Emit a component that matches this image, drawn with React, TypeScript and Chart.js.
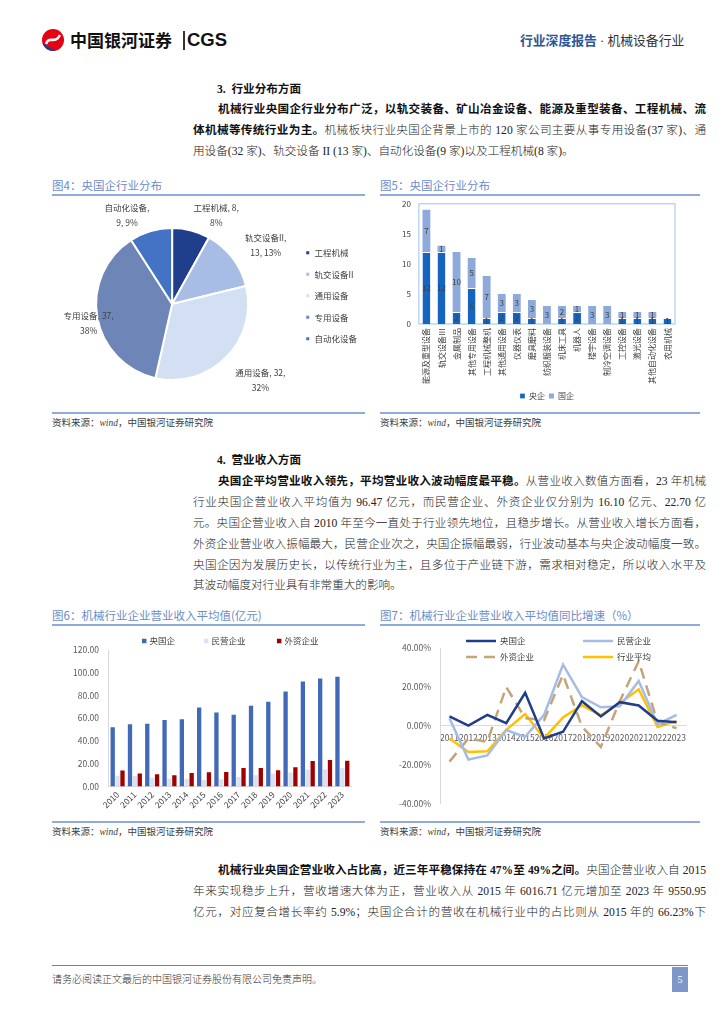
import React, { useEffect, useRef } from 'react';
import { Chart, registerables } from 'chart.js';

Chart.register(...registerables);

const CHART_FONT = '"Noto Sans CJK SC", "Noto Sans", sans-serif';
const TEXT_FONT = '"Liberation Serif", "Noto Sans CJK SC", serif';
Chart.defaults.font.family = CHART_FONT;
Chart.defaults.color = '#595959';

// ---------- Figure 4: pie ----------
const pieCategories = ['工程机械', '轨交设备II', '通用设备', '专用设备', '自动化设备'];
const pieValues = [8, 13, 32, 37, 9];
const piePercentLabels = ['8%', '13%', '32%', '38%', '9%'];

// ---------- Figure 5: stacked bars ----------
const industryCategories = [
  '能源及重型设备', '轨交设备Ⅲ', '金属制品', '其他专用设备', '工程机械整机', '其他通用设备',
  '仪器仪表', '磨具磨料', '纺织服装设备', '机床工具', '机器人', '楼宇设备',
  '制冷空调设备', '工控设备', '激光设备', '其他自动化设备', '农用机械',
];
const centralSoeCounts = [12, 12, 2, 6, 1, 2, 2, 1, 0, 1, 2, 0, 0, 1, 1, 1, 1];
const localSoeCounts = [7, 1, 10, 5, 7, 3, 3, 3, 3, 2, 1, 3, 3, 1, 1, 1, 0];
const industrySeriesNames = ['央企', '国企'];
const industryTicks = [0, 5, 10, 15, 20];

// ---------- Figure 6: grouped bars ----------
const revenueYears = ['2010', '2011', '2012', '2013', '2014', '2015', '2016', '2017', '2018', '2019', '2020', '2021', '2022', '2023'];
const soeAvgRevenue = [52.0, 54.6, 55.2, 58.4, 59.0, 69.5, 65.1, 63.0, 71.0, 74.4, 83.4, 92.4, 95.0, 96.47];
const privateAvgRevenue = [9.3, 9.3, 7.6, 6.7, 6.7, 5.8, 6.4, 8.4, 9.9, 11.3, 12.2, 14.8, 15.1, 16.1];
const foreignAvgRevenue = [14.0, 11.3, 10.8, 9.9, 11.9, 12.5, 12.8, 16.3, 16.3, 14.2, 16.9, 22.4, 23.3, 22.7];
const revenueSeriesNames = ['央国企', '民营企业', '外资企业'];
const revenueTicks = [0, 20, 40, 60, 80, 100, 120];

// ---------- Figure 7: lines ----------
const growthYears = ['2011', '2012', '2013', '2014', '2015', '2016', '2017', '2018', '2019', '2020', '2021', '2022', '2023'];
const soeGrowth = [4.9, 0.2, 5.7, 1.4, 17.0, -6.4, -3.0, 12.7, 4.9, 12.2, 10.5, 2.7, 1.9];
const privateGrowth = [4.0, -17.2, -15.1, -2.1, -5.6, 5.7, 31.5, 14.8, 9.6, 10.1, 23.1, 0.9, 5.7];
const foreignGrowth = [-18.3, -6.4, -8.2, 20.0, 4.0, 3.0, 26.3, -0.3, -10.8, 12.7, 33.2, 1.9, -1.2];
const industryGrowth = [-6.4, -13.4, -13.0, -2.0, 6.1, -6.4, 4.3, 10.6, 5.4, 11.6, 18.8, -0.5, 2.6];
const growthSeriesNames = ['央国企', '民营企业', '外资企业', '行业平均'];
const growthTicks = [-40, -20, 0, 20, 40];

// ---------- plugins ----------
const pieLabelPlugin = {
  id: 'pieLabels',
  afterDatasetsDraw(chart: any, _a: any, opts: any) {
    const meta = chart.getDatasetMeta(0);
    const ctx = chart.ctx;
    ctx.save();
    ctx.font = `${opts.size}px ${CHART_FONT}`;
    ctx.fillStyle = opts.color;
    ctx.textAlign = 'center';
    ctx.textBaseline = 'middle';
    meta.data.forEach((arc: any, i: number) => {
      const p = arc.getProps(['x', 'y', 'startAngle', 'endAngle', 'outerRadius'], true);
      const mid = (p.startAngle + p.endAngle) / 2;
      const d = p.outerRadius + opts.distance;
      const s = opts.shift[i] || [0, 0];
      const cx = p.x + Math.cos(mid) * d + s[0];
      const cy = p.y + Math.sin(mid) * d + s[1];
      const name = chart.data.labels[i];
      const v = chart.data.datasets[0].data[i];
      const pct = opts.percents[i];
      const lines = name.length >= 5 ? [`${name},`, `${v}, ${pct}`] : [`${name}, ${v},`, pct];
      lines.forEach((t: string, k: number) => {
        ctx.fillText(t, cx, cy + (k - (lines.length - 1) / 2) * opts.lineHeight);
      });
    });
    ctx.restore();
  },
};

const stackLabelPlugin = {
  id: 'stackLabels',
  afterDatasetsDraw(chart: any, _a: any, opts: any) {
    const ctx = chart.ctx;
    ctx.save();
    ctx.font = `${opts.size}px ${CHART_FONT}`;
    ctx.fillStyle = opts.color;
    ctx.textAlign = 'center';
    ctx.textBaseline = 'middle';
    chart.data.datasets.forEach((ds: any, di: number) => {
      const meta = chart.getDatasetMeta(di);
      meta.data.forEach((bar: any, i: number) => {
        const v = ds.data[i];
        if (!v) return;
        const p = bar.getProps(['x', 'y', 'base'], true);
        ctx.fillText(String(v), p.x, (p.y + p.base) / 2);
      });
    });
    ctx.restore();
  },
};

const plotBorderPlugin = {
  id: 'plotBorder',
  beforeDatasetsDraw(chart: any, _a: any, opts: any) {
    const { ctx, chartArea: a } = chart;
    ctx.save();
    ctx.strokeStyle = opts.color;
    ctx.lineWidth = opts.width;
    ctx.strokeRect(a.left, a.top, a.right - a.left, a.bottom - a.top);
    ctx.restore();
  },
};

const manualLegendPlugin = {
  id: 'manualLegend',
  afterDraw(chart: any, _a: any, opts: any) {
    const { ctx, chartArea } = chart;
    ctx.save();
    ctx.font = `${opts.size}px ${CHART_FONT}`;
    ctx.textBaseline = 'middle';
    ctx.textAlign = 'left';
    opts.rows.forEach((row: any) => {
      const y = chartArea.top + row.dy;
      row.items.forEach((item: any) => {
        const ds = chart.data.datasets[item.index];
        const x = chartArea.left + item.dx;
        let tx;
        if (opts.marker === 'box') {
          ctx.fillStyle = ds.backgroundColor;
          ctx.fillRect(x, y - opts.box / 2, opts.box, opts.box);
          tx = x + opts.box + opts.gap;
        } else {
          ctx.strokeStyle = ds.borderColor;
          ctx.lineWidth = ds.borderWidth;
          ctx.setLineDash(ds.borderDash || []);
          ctx.beginPath();
          ctx.moveTo(x, y);
          ctx.lineTo(x + opts.lineLength, y);
          ctx.stroke();
          ctx.setLineDash([]);
          tx = x + opts.lineLength + opts.gap;
        }
        ctx.fillStyle = opts.color;
        ctx.fillText(ds.label, tx, y);
      });
    });
    ctx.restore();
  },
};

// ---------- chart builders ----------
function buildPie(c: HTMLCanvasElement) {
  return new Chart(c, {
    type: 'pie',
    data: {
      labels: pieCategories,
      datasets: [{
        data: pieValues,
        backgroundColor: ['#1f3e8c', '#a8bde6', '#d3dff2', '#6e85b7', '#4472c4'],
        borderColor: '#ffffff',
        borderWidth: 2,
        radius: 76,
      }],
    },
    options: {
      animation: false,
      responsive: false,
      layout: { padding: 0 },
      plugins: {
        legend: {
          position: 'right',
          align: 'start',
          title: { display: true, text: ' ', padding: { top: 28, bottom: 0 }, font: { size: 8 } },
          labels: { boxWidth: 5, boxHeight: 5, padding: 13, font: { size: 8.5 }, color: '#404040' },
        },
        tooltip: { enabled: false },
        pieLabels: {
          size: 8.5, color: '#404040', distance: 24, lineHeight: 15, percents: piePercentLabels,
          shift: [[19, 8], [14, 2], [17, 6], [15, 2], [-17, 7]],
        },
      } as any,
    },
    plugins: [pieLabelPlugin as any],
  });
}

function buildStack(c: HTMLCanvasElement) {
  return new Chart(c, {
    type: 'bar',
    data: {
      labels: industryCategories,
      datasets: [
        { label: industrySeriesNames[0], data: centralSoeCounts, backgroundColor: '#1565c0', borderColor: '#ffffff', borderWidth: { top: 1 } as any, borderSkipped: 'bottom' },
        { label: industrySeriesNames[1], data: localSoeCounts, backgroundColor: '#8eaadb', borderColor: '#ffffff', borderWidth: 0 },
      ],
    },
    options: {
      animation: false,
      responsive: false,
      datasets: { bar: { categoryPercentage: 1, barPercentage: 0.52 } },
      layout: { padding: { left: 14, right: 25, top: 0, bottom: 0 } },
      scales: {
        x: {
          stacked: true,
          grid: { display: false, drawTicks: false },
          border: { display: false },
          ticks: { autoSkip: false, minRotation: 90, maxRotation: 90, font: { size: 8 }, color: '#404040', padding: 4 },
        },
        y: {
          stacked: true, min: 0, max: 20,
          afterBuildTicks: (s: any) => { s.ticks = industryTicks.map((v) => ({ value: v })); },
          grid: { display: false, drawTicks: false },
          border: { display: false },
          ticks: { font: { size: 8 }, padding: 8, color: '#404040' },
        },
      },
      plugins: {
        legend: { position: 'bottom', fullSize: false, labels: { boxWidth: 5, boxHeight: 5, padding: 4, font: { size: 8 }, color: '#404040' } },
        tooltip: { enabled: false },
        plotBorder: { color: '#9dc3e6', width: 1 },
        stackLabels: { size: 8, color: '#404040' },
      } as any,
    },
    plugins: [plotBorderPlugin as any, stackLabelPlugin as any],
  });
}

function buildRevenue(c: HTMLCanvasElement) {
  return new Chart(c, {
    type: 'bar',
    data: {
      labels: revenueYears,
      datasets: [
        { label: revenueSeriesNames[0], data: soeAvgRevenue, backgroundColor: '#4169b8' },
        { label: revenueSeriesNames[1], data: privateAvgRevenue, backgroundColor: '#d9e2f3' },
        { label: revenueSeriesNames[2], data: foreignAvgRevenue, backgroundColor: '#a00000' },
      ],
    },
    options: {
      animation: false,
      responsive: false,
      datasets: { bar: { categoryPercentage: 0.85, barPercentage: 0.88 } },
      layout: { padding: { left: 11, right: 14, top: 20, bottom: 0 } },
      scales: {
        x: {
          grid: { display: false, drawTicks: false },
          border: { display: true, color: '#d9d9d9' },
          ticks: { autoSkip: false, minRotation: 45, maxRotation: 45, font: { size: 8.5 }, color: '#404040', padding: 3 },
        },
        y: {
          min: 0, max: 120,
          afterBuildTicks: (s: any) => { s.ticks = revenueTicks.map((v) => ({ value: v })); },
          grid: { display: false, drawTicks: false },
          border: { display: true, color: '#d9d9d9' },
          ticks: { font: { size: 8.5 }, padding: 10, color: '#595959', callback: (v: any) => Number(v).toFixed(2) },
        },
      },
      plugins: {
        legend: { display: false },
        tooltip: { enabled: false },
        manualLegend: {
          size: 8.5, color: '#404040', marker: 'box', box: 4.5, gap: 3,
          rows: [{ dy: -9, items: [{ index: 0, dx: 33 }, { index: 1, dx: 95 }, { index: 2, dx: 168 }] }],
        },
      } as any,
    },
    plugins: [manualLegendPlugin as any],
  });
}

function buildGrowth(c: HTMLCanvasElement) {
  const common = { pointRadius: 0, tension: 0, fill: false, borderWidth: 2.5 };
  return new Chart(c, {
    type: 'line',
    data: {
      labels: growthYears,
      datasets: [
        { ...common, label: growthSeriesNames[0], data: soeGrowth, borderColor: '#1f3d8c', backgroundColor: '#1f3d8c' },
        { ...common, label: growthSeriesNames[1], data: privateGrowth, borderColor: '#a4bce6', backgroundColor: '#a4bce6' },
        { ...common, label: growthSeriesNames[2], data: foreignGrowth, borderColor: '#c4a47a', backgroundColor: '#c4a47a', borderDash: [11, 7] },
        { ...common, label: growthSeriesNames[3], data: industryGrowth, borderColor: '#ffc000', backgroundColor: '#ffc000' },
      ],
    },
    options: {
      animation: false,
      responsive: false,
      layout: { padding: { left: 10, right: 14, top: 18, bottom: 0 } },
      scales: {
        x: {
          position: { y: 0 } as any,
          offset: true,
          grid: { display: false, drawTicks: false },
          border: { display: true, color: '#d9d9d9' },
          ticks: { autoSkip: false, maxRotation: 0, minRotation: 0, font: { size: 8.5 }, color: '#595959', padding: 7 },
        },
        y: {
          min: -40, max: 40,
          afterBuildTicks: (s: any) => { s.ticks = growthTicks.map((v) => ({ value: v })); },
          grid: { display: false, drawTicks: false },
          border: { display: true, color: '#d9d9d9' },
          ticks: { font: { size: 8.5 }, padding: 9, color: '#595959', callback: (v: any) => Number(v).toFixed(2) + '%' },
        },
      },
      plugins: {
        legend: { display: false },
        tooltip: { enabled: false },
        manualLegend: {
          size: 8.5, color: '#404040', marker: 'line', lineLength: 30, gap: 4,
          rows: [
            { dy: -7, items: [{ index: 0, dx: 26 }, { index: 1, dx: 143 }] },
            { dy: 9, items: [{ index: 2, dx: 26 }, { index: 3, dx: 143 }] },
          ],
        },
      } as any,
    },
    plugins: [manualLegendPlugin as any],
  });
}

// ---------- components ----------
function ChartBox({ x, y, w, h, build }: { x: number; y: number; w: number; h: number; build: (c: HTMLCanvasElement) => Chart }) {
  const ref = useRef<HTMLCanvasElement>(null);
  useEffect(() => {
    const chart = build(ref.current as HTMLCanvasElement);
    return () => chart.destroy();
  }, []);
  return (
    <div style={{ position: 'absolute', left: x, top: y, width: w, height: h }}>
      <canvas ref={ref} width={w} height={h} style={{ width: w, height: h, display: 'block' }} />
    </div>
  );
}

function Line({ x, y, w, justify = true, size = 11.6, children }: { x: number; y: number; w: number; justify?: boolean; size?: number; children: React.ReactNode }) {
  return (
    <div style={{
      position: 'absolute', left: x, top: y - size * 0.7, width: w, fontSize: size,
      lineHeight: `${size * 1.4}px`, textAlign: justify ? 'justify' : 'left',
      textAlignLast: justify ? 'justify' : 'auto', color: '#222', fontFamily: TEXT_FONT, fontWeight: 300, whiteSpace: 'normal',
    } as React.CSSProperties}>{children}</div>
  );
}

const B = ({ children }: { children: React.ReactNode }) => <b style={{ fontWeight: 700, color: '#111' }}>{children}</b>;

function FigTitle({ x, y, w, text }: { x: number; y: number; w: number; text: string }) {
  return (
    <>
      <div style={{ position: 'absolute', left: x, top: y - 8, fontSize: 11.5, lineHeight: '16px', color: '#6d8cc9', fontFamily: CHART_FONT, whiteSpace: 'nowrap' }}>{text}</div>
      <div style={{ position: 'absolute', left: x, top: y + 9, width: w, height: 1.5, background: '#8faadc' }} />
    </>
  );
}

function FigSource({ x, y, w }: { x: number; y: number; w: number }) {
  return (
    <>
      <div style={{ position: 'absolute', left: x, top: y, width: w, height: 1.5, background: '#8faadc' }} />
      <div style={{ position: 'absolute', left: x, top: y + 3, fontSize: 9.5, lineHeight: '14px', color: '#404040', fontFamily: CHART_FONT, whiteSpace: 'nowrap' }}>
        资料来源：<i style={{ fontFamily: TEXT_FONT }}>wind</i>，中国银河证券研究院
      </div>
    </>
  );
}

export default function App() {
  return (
    <div style={{ position: 'absolute', left: 0, top: 0, width: 724, height: 1024, background: '#fff', overflow: 'hidden' }}>
      {/* header */}
      <svg width="24" height="24" viewBox="0 0 24 24" style={{ position: 'absolute', left: 41, top: 28 }}>
        <circle cx="12" cy="12" r="11" fill="#e60012" />
        <path d="M1.5 15 A11 11 0 0 0 15 22.6 C 10 20, 6 18, 1.5 15 Z" fill="#1d3f94" />
        <path d="M5 16 C 8 7, 14 17, 19 7" stroke="#ffffff" strokeWidth="2.6" fill="none" />
      </svg>
      <div style={{ position: 'absolute', left: 70, top: 29, fontSize: 17, lineHeight: '22px', fontWeight: 700, fontFamily: CHART_FONT, color: '#111', whiteSpace: 'nowrap' }}>中国银河证券</div>
      <div style={{ position: 'absolute', left: 183, top: 31, width: 1.5, height: 19, background: '#333' }} />
      <div style={{ position: 'absolute', left: 187, top: 28, fontSize: 18.5, lineHeight: '24px', fontWeight: 700, fontFamily: '"Liberation Sans", Arial, sans-serif', color: '#111' }}>CGS</div>
      <div style={{ position: 'absolute', left: 520, top: 32, fontSize: 12.8, lineHeight: '18px', fontFamily: TEXT_FONT, whiteSpace: 'nowrap' }}>
        <span style={{ color: '#2e5597', fontWeight: 700 }}>行业深度报告</span>
        <span style={{ color: '#333' }}> · 机械设备行业</span>
      </div>

      {/* section 3 */}
      <Line x={217} y={90} w={200} justify={false}><B>3.&nbsp;&nbsp;行业分布方面</B></Line>
      <Line x={218} y={110} w={488}><B>机械行业央国企行业分布广泛，以轨交装备、矿山冶金设备、能源及重型装备、工程机械、流</B></Line>
      <Line x={193} y={131} w={513}><B>体机械等传统行业为主。</B>机械板块行业央国企背景上市的 120 家公司主要从事专用设备(37 家)、通</Line>
      <Line x={193} y={152} w={513} justify={false}>用设备(32 家)、轨交设备 II (13 家)、自动化设备(9 家)以及工程机械(8 家)。</Line>

      {/* figures 4 & 5 */}
      <FigTitle x={52} y={185} w={313} text="图4：央国企行业分布" />
      <FigTitle x={380} y={185} w={320} text="图5：央国企行业分布" />
      <ChartBox x={52} y={198} w={315} h={212} build={buildPie} />
      <ChartBox x={380} y={191} w={320} h={219} build={buildStack} />
      <FigSource x={52} y={412} w={313} />
      <FigSource x={380} y={412} w={320} />

      {/* section 4 */}
      <Line x={217} y={461} w={200} justify={false}><B>4.&nbsp;&nbsp;营业收入方面</B></Line>
      <Line x={218} y={482} w={488}><B>央国企平均营业收入领先，平均营业收入波动幅度最平稳。</B>从营业收入数值方面看，23 年机械</Line>
      <Line x={193} y={503} w={513}>行业央国企营业收入平均值为 96.47 亿元，而民营企业、外资企业仅分别为 16.10 亿元、22.70 亿</Line>
      <Line x={193} y={524} w={513}>元。央国企营业收入自 2010 年至今一直处于行业领先地位，且稳步增长。从营业收入增长方面看，</Line>
      <Line x={193} y={545} w={513}>外资企业营业收入振幅最大，民营企业次之，央国企振幅最弱，行业波动基本与央企波动幅度一致。</Line>
      <Line x={193} y={566} w={513}>央国企因为发展历史长，以传统行业为主，且多位于产业链下游，需求相对稳定，所以收入水平及</Line>
      <Line x={193} y={586} w={513} justify={false}>其波动幅度对行业具有非常重大的影响。</Line>

      {/* figures 6 & 7 */}
      <FigTitle x={52} y={615} w={313} text="图6：机械行业企业营业收入平均值(亿元)" />
      <FigTitle x={380} y={615} w={320} text="图7：机械行业企业营业收入平均值同比增速（%）" />
      <ChartBox x={52} y={630} w={313} h={183} build={buildRevenue} />
      <ChartBox x={380} y={630} w={320} h={188} build={buildGrowth} />
      <FigSource x={52} y={821} w={313} />
      <FigSource x={380} y={821} w={320} />

      {/* bottom paragraph */}
      <Line x={218} y={871} w={488}><B>机械行业央国企营业收入占比高，近三年平稳保持在 47%至 49%之间。</B>央国企营业收入自 2015</Line>
      <Line x={193} y={892} w={513}>年来实现稳步上升，营收增速大体为正，营业收入从 2015 年 6016.71 亿元增加至 2023 年 9550.95</Line>
      <Line x={193} y={913} w={513}>亿元，对应复合增长率约 5.9%；央国企合计的营收在机械行业中的占比则从 2015 年的 66.23%下</Line>

      {/* footer */}
      <div style={{ position: 'absolute', left: 52, top: 965, width: 636, height: 1, background: '#7f7f7f' }} />
      <div style={{ position: 'absolute', left: 52, top: 973, fontSize: 10, lineHeight: '14px', color: '#333', fontFamily: TEXT_FONT, fontWeight: 300, whiteSpace: 'nowrap' }}>请务必阅读正文最后的中国银河证券股份有限公司免责声明。</div>
      <div style={{ position: 'absolute', left: 672, top: 967, width: 16, height: 25, background: '#7f96c8', color: '#fff', fontSize: 10, lineHeight: '25px', textAlign: 'center', fontFamily: TEXT_FONT }}>5</div>
    </div>
  );
}
